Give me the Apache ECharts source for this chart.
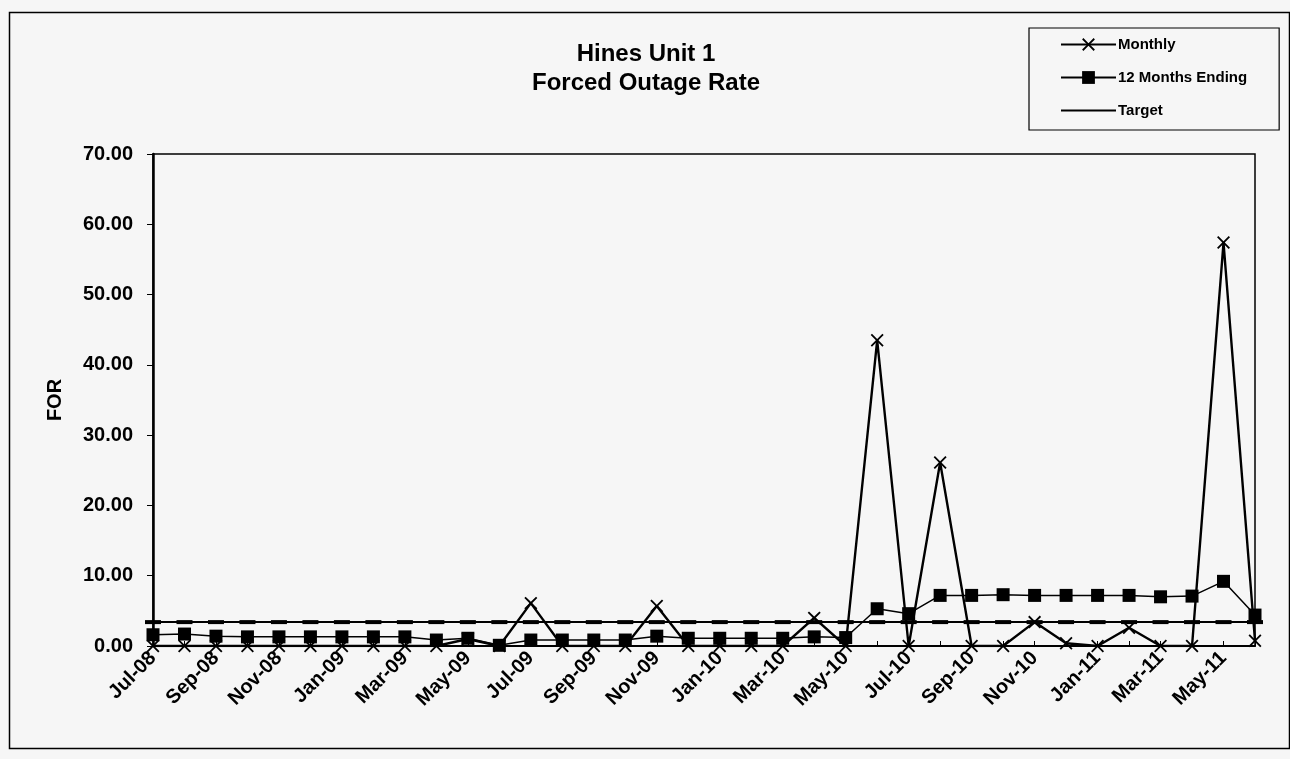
<!DOCTYPE html>
<html>
<head>
<meta charset="utf-8">
<script src="https://cdn.jsdelivr.net/npm/echarts@6/dist/echarts.min.js"></script>
<style>
html,body{margin:0;padding:0;background:#f6f6f6;}
#c{width:1290px;height:759px;}
</style>
</head>
<body>
<div id="c"></div>
<script>
var months = ['Jul-08','Aug-08','Sep-08','Oct-08','Nov-08','Dec-08','Jan-09','Feb-09','Mar-09','Apr-09','May-09','Jun-09',
  'Jul-09','Aug-09','Sep-09','Oct-09','Nov-09','Dec-09','Jan-10','Feb-10','Mar-10','Apr-10','May-10','Jun-10',
  'Jul-10','Aug-10','Sep-10','Oct-10','Nov-10','Dec-10','Jan-11','Feb-11','Mar-11','Apr-11','May-11','Jun-11'];
var monthly = [0,0,0,0,0,0,0,0,0,0,1.0,0,
  6.1,0,0,0,5.7,0,0,0,0,4.0,0,43.5,
  0,26.1,0,0,3.4,0.4,0,2.6,0,0,57.4,0.75];
var rolling12 = [1.6,1.7,1.4,1.3,1.3,1.3,1.3,1.3,1.3,0.85,1.1,0.1,
  0.85,0.85,0.85,0.85,1.4,1.1,1.1,1.1,1.1,1.3,1.2,5.3,
  4.6,7.2,7.2,7.3,7.2,7.2,7.2,7.2,7.0,7.1,9.2,4.4];
var target = [3.4,3.4,3.4,3.4,3.4,3.4,3.4,3.4,3.4,3.4,3.4,3.4,
  3.4,3.4,3.4,3.4,3.4,3.4,3.4,3.4,3.4,3.4,3.4,3.4,
  3.4,3.4,3.4,3.4,3.4,3.4,3.4,3.4,3.4,3.4,3.4,3.4];
var yTicks = {min: 0, max: 70, interval: 10};

var xSym = 'path://M0,1 L1,0 L5,4 L9,0 L10,1 L6,5 L10,9 L9,10 L5,6 L1,10 L0,9 L4,5 Z';
var font = 'Liberation Sans, Arial, sans-serif';

var chart = echarts.init(document.getElementById('c'));
chart.setOption({
  backgroundColor: '#f6f6f6',
  animation: false,
  graphic: [{
    type: 'rect', left: 7, top: 10, shape: {width: 1280, height: 736},
    style: {fill: 'none', stroke: '#000', lineWidth: 1.5}, silent: true
  }],
  title: {
    text: 'Hines Unit 1\nForced Outage Rate',
    left: 641, top: 35, textAlign: 'center',
    textStyle: {fontFamily: font, fontSize: 24, fontWeight: 'bold', color: '#000', lineHeight: 29}
  },
  legend: {
    orient: 'vertical', left: 1029, top: 28,
    padding: [9, 32, 12, 31],
    borderColor: '#000', borderWidth: 1.2, backgroundColor: '#f6f6f6',
    itemWidth: 55, itemHeight: 16, itemGap: 18,
    textStyle: {fontFamily: font, fontSize: 15, fontWeight: 'bold', color: '#000', padding: [0, 0, 0, -3]},
    data: ['Monthly', '12 Months Ending', {name: 'Target', itemStyle: {opacity: 0}}]
  },
  grid: {left: 153, top: 154, right: 35, bottom: 113, show: true, borderColor: '#000', borderWidth: 1.5, backgroundColor: 'transparent'},
  xAxis: {
    type: 'category', data: months, boundaryGap: false,
    axisLine: {lineStyle: {color: '#000', width: 2}},
    axisTick: {show: true, inside: true, interval: 0, length: 5, lineStyle: {color: '#000', width: 1}},
    axisLabel: {interval: 1, rotate: 45, margin: 9, color: '#000', fontFamily: font, fontSize: 20, fontWeight: 'bold'},
    splitLine: {show: false}
  },
  yAxis: {
    type: 'value', min: yTicks.min, max: yTicks.max, interval: yTicks.interval,
    name: 'FOR', nameLocation: 'middle', nameGap: 88, nameRotate: 90,
    nameTextStyle: {fontFamily: font, fontSize: 20, fontWeight: 'bold', color: '#000'},
    axisLine: {show: true, lineStyle: {color: '#000', width: 2.5}},
    axisTick: {show: true, length: 6, lineStyle: {color: '#000', width: 1}},
    axisLabel: {formatter: function(v){return v.toFixed(2);}, margin: 20, color: '#000', fontFamily: font, fontSize: 20, fontWeight: 'bold'},
    splitLine: {show: false}
  },
  series: [
    {
      name: 'Target', type: 'line', data: target, z: 2,
      symbol: 'rect', symbolSize: [16, 4], showSymbol: true,
      lineStyle: {color: '#000', width: 2},
      itemStyle: {color: '#000'}
    },
    {
      name: '12 Months Ending', type: 'line', data: rolling12, z: 3,
      symbol: 'rect', symbolSize: 13,
      lineStyle: {color: '#000', width: 1.5},
      itemStyle: {color: '#000'}
    },
    {
      name: 'Monthly', type: 'line', data: monthly, z: 4,
      symbol: xSym, symbolSize: 13,
      lineStyle: {color: '#000', width: 2.4},
      itemStyle: {color: '#000'}
    }
  ]
});
</script>
</body>
</html>
